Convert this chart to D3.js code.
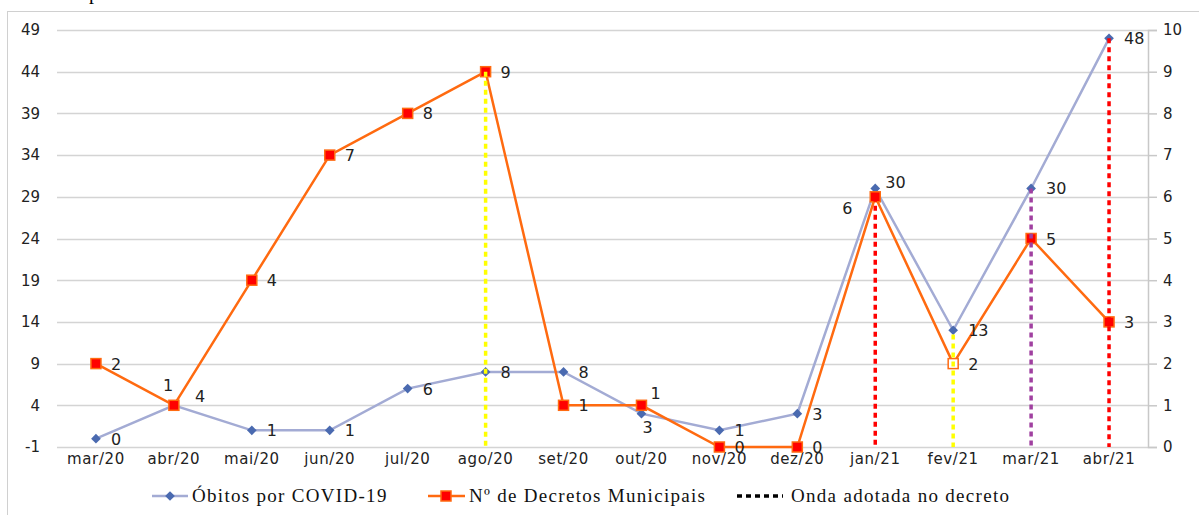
<!DOCTYPE html>
<html>
<head>
<meta charset="utf-8">
<script src="https://cdn.jsdelivr.net/npm/d3@7.8.5/dist/d3.min.js"></script>
<style>
  body { margin: 0; background: #fff; }
  svg { display: block; }
</style>
</head>
<body>
<div id="chart"></div>
<script>
// chart data
const months = ['mar/20', 'abr/20', 'mai/20', 'jun/20', 'jul/20', 'ago/20', 'set/20',
  'out/20', 'nov/20', 'dez/20', 'jan/21', 'fev/21', 'mar/21', 'abr/21'];
const obitos = [0, 4, 1, 1, 6, 8, 8, 3, 1, 3, 30, 13, 30, 48];
const decretos = [2, 1, 4, 7, 8, 9, 1, 1, 0, 0, 6, 2, 5, 3];
const leftTicks = [-1, 4, 9, 14, 19, 24, 29, 34, 39, 44, 49];
const rightTicks = [0, 1, 2, 3, 4, 5, 6, 7, 8, 9, 10];
// "onda" markers: month, top value on the left axis, colour
const ondas = [
  { month: 'ago/20', top: 44, color: '#ffff00' },
  { month: 'jan/21', top: 29, color: '#ff0000' },
  { month: 'fev/21', top: 12.5, color: '#ffff00' },
  { month: 'mar/21', top: 30, color: '#a040a0' },
  { month: 'abr/21', top: 48, color: '#ff0000' }
];
const legendLabels = ['Óbitos por COVID-19', 'Nº de Decretos Municipais', 'Onda adotada no decreto'];

const width = 1199, height = 515;
const plot = { left: 57, right: 1148, top: 30, bottom: 447 };

const svg = d3.select('#chart').append('svg')
  .attr('width', width)
  .attr('height', height);

svg.append('rect').attr('width', width).attr('height', height).attr('fill', '#fff');
svg.append('rect')
  .attr('x', 7.5).attr('y', 11.5)
  .attr('width', 1200).attr('height', 520)
  .attr('fill', 'none').attr('stroke', '#d0d0d0');

const sans = 'DejaVu Sans, Verdana, sans-serif';
const serif = 'Liberation Serif, Times New Roman, serif';

// cut-off caption above the chart
svg.append('text').attr('x', 89).attr('y', -1)
  .attr('font-family', serif).attr('font-size', 20).text('p');

const x = d3.scaleBand().domain(months).range([plot.left, plot.right]);
const yL = d3.scaleLinear().domain([-1, 49]).range([plot.bottom, plot.top]);
const yR = d3.scaleLinear().domain([0, 10]).range([plot.bottom, plot.top]);
const cx = m => x(m) + x.bandwidth() / 2;

// gridlines
svg.append('g').selectAll('line')
  .data(leftTicks)
  .join('line')
  .attr('x1', plot.left).attr('x2', plot.right)
  .attr('y1', d => Math.round(yL(d)) + 0.5).attr('y2', d => Math.round(yL(d)) + 0.5)
  .attr('stroke', '#d4d4d4').attr('stroke-width', 1.5);

// left axis labels
const gl = svg.append('g')
  .attr('transform', `translate(${plot.left},0)`)
  .call(d3.axisLeft(yL).tickValues(leftTicks).tickSize(0).tickPadding(17)
    .tickFormat(d => String(d)));
gl.select('.domain').remove();
gl.selectAll('text').attr('font-family', sans).attr('font-size', 15).attr('fill', '#222');

// right axis
const gr = svg.append('g')
  .attr('transform', `translate(${plot.right},0)`)
  .call(d3.axisRight(yR).tickValues(rightTicks).tickSize(9).tickPadding(6));
gr.select('.domain').attr('stroke', '#c8c8c8').attr('stroke-width', 1.5);
gr.selectAll('line').attr('stroke', '#c8c8c8').attr('stroke-width', 1.5);
gr.selectAll('text').attr('font-family', sans).attr('font-size', 15).attr('fill', '#222');

// bottom axis labels
const gb = svg.append('g')
  .attr('transform', `translate(0,${plot.bottom})`)
  .call(d3.axisBottom(x).tickSize(0).tickPadding(6));
gb.select('.domain').remove();
gb.selectAll('text').attr('font-family', sans).attr('font-size', 15)
  .attr('letter-spacing', 0.6).attr('fill', '#222');

// óbitos line
const lineL = d3.line().x((d, i) => cx(months[i])).y(d => yL(d));
svg.append('path')
  .datum(obitos)
  .attr('d', lineL)
  .attr('fill', 'none').attr('stroke', '#a3abd4').attr('stroke-width', 2.5);

// decretos line
const lineR = d3.line().x((d, i) => cx(months[i])).y(d => yR(d));
svg.append('path')
  .datum(decretos)
  .attr('d', lineR)
  .attr('fill', 'none').attr('stroke', '#ff6a10').attr('stroke-width', 2.5);

// óbitos markers
const diamond = d3.symbol().type(d3.symbolDiamond2).size(60);
svg.append('g').selectAll('path')
  .data(obitos)
  .join('path')
  .attr('d', diamond)
  .attr('transform', (d, i) => `translate(${cx(months[i])},${yL(d)})`)
  .attr('fill', '#4a6ab0');

// decretos markers
svg.append('g').selectAll('rect')
  .data(decretos)
  .join('rect')
  .attr('x', (d, i) => cx(months[i]) - 5)
  .attr('y', d => yR(d) - 5)
  .attr('width', 10).attr('height', 10)
  .attr('fill', (d, i) => months[i] === 'fev/21' ? '#fff' : '#ff0000')
  .attr('stroke', '#ff6a10').attr('stroke-width', 1.5);

// onda lines
svg.append('g').selectAll('line')
  .data(ondas)
  .join('line')
  .attr('x1', d => cx(d.month)).attr('x2', d => cx(d.month))
  .attr('y1', d => yL(d.top)).attr('y2', plot.bottom)
  .attr('stroke', d => d.color).attr('stroke-width', 3.5)
  .attr('stroke-dasharray', '5,4');

// data labels (offsets per point)
const defOffset = [15, 0];
const obitosOffset = { 'abr/20': [21, -9], 'out/20': [1, 13], 'jan/21': [10, -6] };
const decretosOffset = { 'abr/20': [-11, -20], 'out/20': [9, -12], 'jan/21': [-33, 11] };
const labels = svg.append('g')
  .attr('font-family', sans).attr('font-size', 16).attr('fill', '#222');
labels.selectAll('text.ob')
  .data(obitos)
  .join('text').attr('class', 'ob')
  .attr('x', (d, i) => cx(months[i]) + (obitosOffset[months[i]] || defOffset)[0])
  .attr('y', (d, i) => yL(d) + 6 + (obitosOffset[months[i]] || defOffset)[1])
  .text(d => d);
labels.selectAll('text.de')
  .data(decretos)
  .join('text').attr('class', 'de')
  .attr('x', (d, i) => cx(months[i]) + (decretosOffset[months[i]] || defOffset)[0])
  .attr('y', (d, i) => yR(d) + 6 + (decretosOffset[months[i]] || defOffset)[1])
  .text(d => d);

// legend
const lg = svg.append('g').attr('font-family', serif).attr('font-size', 19)
  .attr('letter-spacing', 1.3).attr('fill', '#111');
const ly = 496;
lg.append('line').attr('x1', 152).attr('x2', 188).attr('y1', ly).attr('y2', ly)
  .attr('stroke', '#a3abd4').attr('stroke-width', 2.5);
lg.append('path').attr('d', diamond).attr('transform', `translate(170,${ly})`).attr('fill', '#4a6ab0');
lg.append('text').attr('x', 192).attr('y', ly + 6).text(legendLabels[0]);

lg.append('line').attr('x1', 428).attr('x2', 465).attr('y1', ly).attr('y2', ly)
  .attr('stroke', '#ff6a10').attr('stroke-width', 2.5);
lg.append('rect').attr('x', 441).attr('y', ly - 5).attr('width', 10).attr('height', 10)
  .attr('fill', '#ff0000').attr('stroke', '#ff6a10').attr('stroke-width', 1.5);
lg.append('text').attr('x', 469).attr('y', ly + 6).text(legendLabels[1]);

lg.append('line').attr('x1', 737).attr('x2', 783).attr('y1', ly).attr('y2', ly)
  .attr('stroke', '#000').attr('stroke-width', 3.5).attr('stroke-dasharray', '5,4');
lg.append('text').attr('x', 791).attr('y', ly + 6).text(legendLabels[2]);
</script>
</body>
</html>
